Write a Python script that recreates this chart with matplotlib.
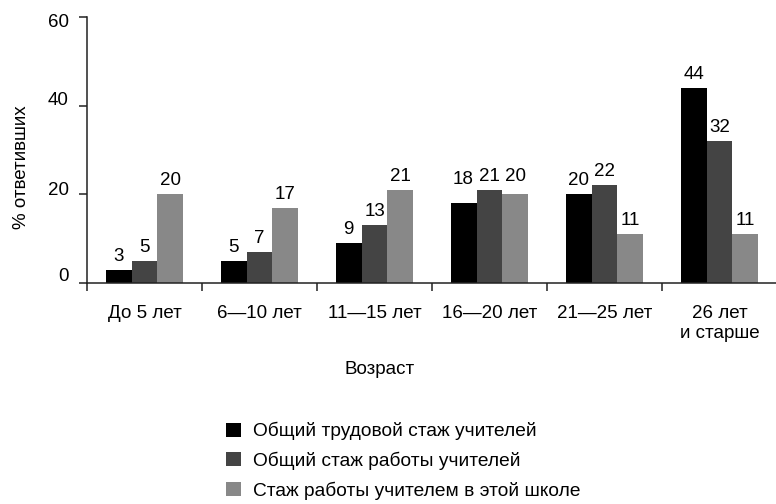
import numpy as np
import matplotlib
matplotlib.use('Agg')
import matplotlib.pyplot as plt
import matplotlib.transforms as mtransforms

plt.rcParams['font.family'] = ['Liberation Sans', 'DejaVu Sans']

# данные
categories = ['До 5 лет', '6—10 лет', '11—15 лет', '16—20 лет', '21—25 лет', '26 лет\nи старше']
series_names = ['Общий трудовой стаж учителей',
                'Общий стаж работы учителей',
                'Стаж работы учителем в этой школе']
total_work = [3, 5, 9, 18, 20, 44]
total_teaching = [5, 7, 13, 21, 22, 32]
this_school = [20, 17, 21, 20, 11, 11]
yticks = [0, 20, 40, 60]

series = [total_work, total_teaching, this_school]
colors = ['#000000', '#444444', '#888888']
fs = 13.5

# подвинуть некоторые подписи повыше (в пунктах), как в оригинале
label_raise = {(0, 3): 7.5, (2, 3): 3.0}

fig = plt.figure(figsize=(7.76, 5.04), dpi=100)
W, H = 776, 504
ax = fig.add_axes([87 / W, 1 - 283 / H, 690 / W, 266 / H])

x = np.arange(len(categories)) + 0.5
bw = 0.226
for i, (vals, col) in enumerate(zip(series, colors)):
    xs = x + (i - 1) * bw
    ax.bar(xs, vals, width=bw, color=col, label=series_names[i])
    for j, (xx, v) in enumerate(zip(xs, vals)):
        dy = 6.5 + label_raise.get((i, j), 0)
        ax.annotate(str(v), (xx, v), xytext=(0, dy), textcoords='offset points',
                    ha='center', va='baseline', fontsize=fs)

ax.set_xlim(0, 6)
ax.set_ylim(0, 60)
ax.set_yticks(yticks)
ax.set_xticks(np.arange(0, 7))
ax.set_xticklabels([])
ax.set_xticks(x, minor=True)
ax.set_xticklabels(categories, minor=True)
ax.tick_params(axis='x', which='minor', length=0, pad=16, labelsize=fs)
ax.tick_params(axis='x', which='major', length=6, width=1.1, direction='out', color='#222222')
ax.tick_params(axis='y', length=6, width=1.1, pad=7, labelsize=fs, color='#222222')

# подписи оси Y в оригинале стоят чуть выше делений
ytick_shift = [6, 4.5, 5.5, -2.5]
for lab, sh in zip(ax.get_yticklabels(), ytick_shift):
    lab.set_transform(lab.get_transform() +
                      mtransforms.ScaledTranslation(0, sh / 72, fig.dpi_scale_trans))

for s in ['top', 'right']:
    ax.spines[s].set_visible(False)
for s in ['left', 'bottom']:
    ax.spines[s].set_linewidth(1.1)
    ax.spines[s].set_color('#222222')

ax.set_ylabel('% ответивших', fontsize=fs)
ax.yaxis.set_label_coords((30 - 87) / 690, (283 - 167) / 266)
ax.set_xlabel('Возраст', fontsize=fs)
ax.xaxis.label.set_va('center')
ax.xaxis.set_label_coords((380 - 87) / 690, (283 - 370) / 266)

fig.legend(loc='upper left', bbox_to_anchor=(226 / W, 1 - 422 / H), frameon=False,
           fontsize=13.8, handlelength=0.8, handleheight=0.75, handletextpad=0.6,
           labelspacing=0.6, borderpad=0, borderaxespad=0)

fig.savefig('out.png', dpi=100)
